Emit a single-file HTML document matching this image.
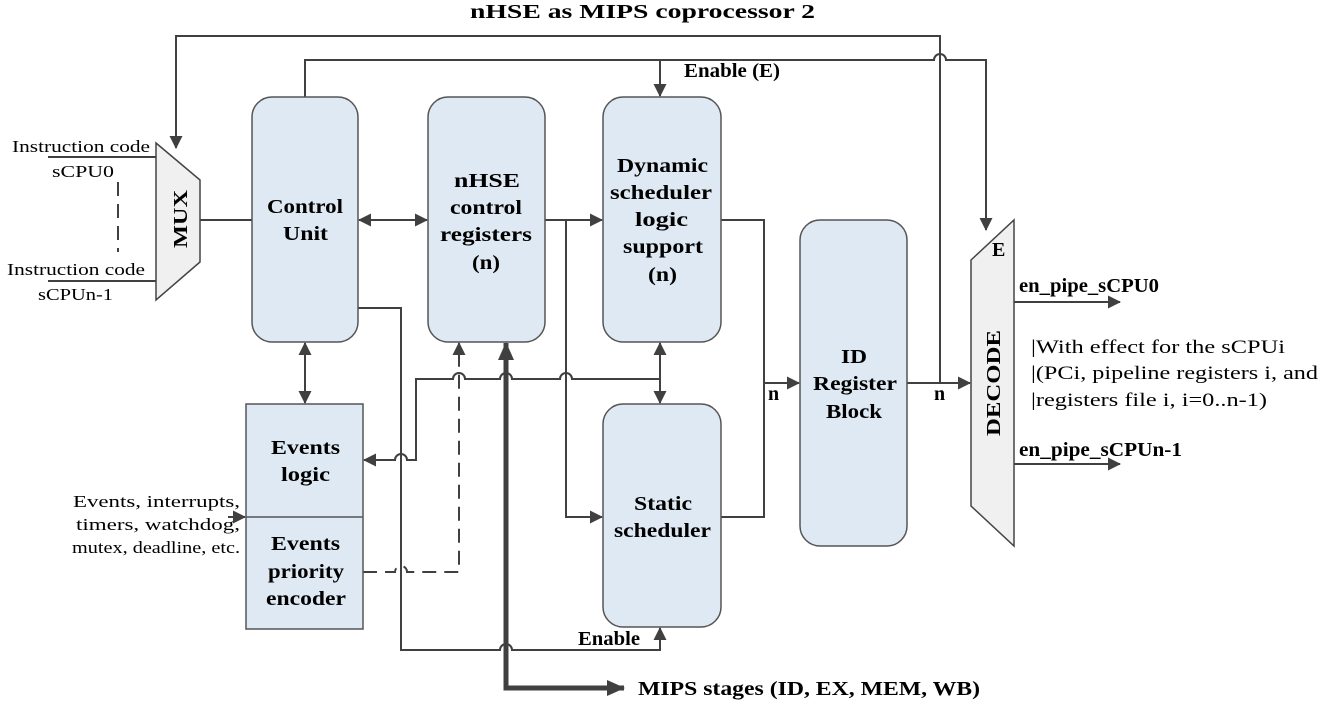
<!DOCTYPE html>
<html><head><meta charset="utf-8"><style>
body{margin:0;background:#fff}
svg{display:block}
text{font-family:"Liberation Serif",serif;fill:#000}
.b{font-weight:bold;font-size:20px}
.s{font-size:17px}
</style></head><body>
<svg width="1323" height="706" viewBox="0 0 1323 706" xmlns="http://www.w3.org/2000/svg">
<defs>
<marker id="a" markerWidth="13" markerHeight="13" refX="12" refY="6.5" orient="auto-start-reverse" markerUnits="userSpaceOnUse" viewBox="0 0 13 13"><path d="M0,0 L13,6.5 L0,13z" fill="#404040"/></marker>
<marker id="A" markerWidth="18" markerHeight="16" refX="17" refY="8" orient="auto-start-reverse" markerUnits="userSpaceOnUse" viewBox="0 0 18 16"><path d="M0,0 L18,8 L0,16z" fill="#404040"/></marker>
</defs>
<g fill="none" stroke="#404040" stroke-width="2">
<path d="M940,383 V36 H176 V148" marker-end="url(#a)"/>
<path d="M305,97 V60 H934 A6,6 0 0 1 946,60 H986 V230" marker-end="url(#a)"/>
<path d="M660,60 V96" marker-end="url(#a)"/>
<path d="M48,157 H156 M48,281 H156 M200,220 H252"/>
<path d="M118,182 V252" stroke-dasharray="14,8"/>
<path d="M359,220 H427" marker-start="url(#a)" marker-end="url(#a)"/>
<path d="M545,220 H602" marker-end="url(#a)"/>
<path d="M566,220 V517 H602" marker-end="url(#a)"/>
<path d="M721,220 H764 V517 H721"/>
<path d="M764,383 H799" marker-end="url(#a)"/>
<path d="M907,383 H970" marker-end="url(#a)"/>
<path d="M660,343 V403" marker-start="url(#a)" marker-end="url(#a)"/>
<path d="M305,343 V403" marker-start="url(#a)" marker-end="url(#a)"/>
<path d="M660,379 H572 A6,6 0 0 0 560,379 H512 A6,6 0 0 0 500,379 H465 A6,6 0 0 0 453,379 H416 V460 H407 A6,6 0 0 0 395,460 H364" marker-end="url(#a)"/>
<path d="M358,308 H401 V650 H500 A6,6 0 0 1 512,650 H660 V628" marker-end="url(#a)"/>
<path d="M363,572 H395 A6,6 0 0 1 407,572 H459 V343" stroke-dasharray="14,8" marker-end="url(#a)"/>
<path d="M228,517 H245" marker-end="url(#a)"/>
<path d="M1014,302 H1120" marker-end="url(#a)"/>
<path d="M1014,464 H1120" marker-end="url(#a)"/>
<path d="M506,343 V688 H624" stroke-width="5" marker-start="url(#A)" marker-end="url(#A)"/>
</g>
<g stroke="#555" stroke-width="1.5" fill="#dfe9f3">
<rect x="252" y="97" width="106" height="245" rx="20"/>
<rect x="428" y="97" width="117" height="245" rx="20"/>
<rect x="603" y="97" width="118" height="245" rx="20"/>
<rect x="603" y="404" width="118" height="223" rx="20"/>
<rect x="800" y="220" width="107" height="326" rx="20"/>
<rect x="246" y="404" width="117" height="225"/>
<line x1="246" y1="517" x2="363" y2="517"/>
<path d="M156,143 L200,180 L200,262 L156,300z" fill="#f0f0f0" stroke="#444"/>
<path d="M971,260 L1014,220 L1014,546 L971,506z" fill="#f0f0f0" stroke="#444"/>
</g>
<g lengthAdjust="spacingAndGlyphs">
<text class="b" x="470" y="18" textLength="345" lengthAdjust="spacingAndGlyphs">nHSE as MIPS coprocessor 2</text>
<text class="b" x="684" y="77" font-size="17" textLength="96" lengthAdjust="spacingAndGlyphs">Enable (E)</text>
<text class="s" x="12" y="152" textLength="138" lengthAdjust="spacingAndGlyphs">Instruction code</text>
<text class="s" x="52" y="177" textLength="62" lengthAdjust="spacingAndGlyphs">sCPU0</text>
<text class="s" x="7" y="275" textLength="138" lengthAdjust="spacingAndGlyphs">Instruction code</text>
<text class="s" x="38" y="300" textLength="75" lengthAdjust="spacingAndGlyphs">sCPUn-1</text>
<text class="b" transform="translate(187,219) rotate(-90)" x="-29" y="0" textLength="58" lengthAdjust="spacingAndGlyphs">MUX</text>
<text class="b" transform="translate(1000,383) rotate(-90)" x="-53" y="0" textLength="106" lengthAdjust="spacingAndGlyphs">DECODE</text>

<text class="b" x="267" y="213" textLength="76" lengthAdjust="spacingAndGlyphs">Control</text>
<text class="b" x="283" y="240" textLength="45" lengthAdjust="spacingAndGlyphs">Unit</text>
<text class="b" x="454" y="187" textLength="66" lengthAdjust="spacingAndGlyphs">nHSE</text>
<text class="b" x="450" y="214" textLength="72" lengthAdjust="spacingAndGlyphs">control</text>
<text class="b" x="440" y="241" textLength="92" lengthAdjust="spacingAndGlyphs">registers</text>
<text class="b" x="472" y="269" textLength="28" lengthAdjust="spacingAndGlyphs">(n)</text>
<text class="b" x="617" y="172" textLength="91" lengthAdjust="spacingAndGlyphs">Dynamic</text>
<text class="b" x="610" y="199" textLength="102" lengthAdjust="spacingAndGlyphs">scheduler</text>
<text class="b" x="635" y="226" textLength="53" lengthAdjust="spacingAndGlyphs">logic</text>
<text class="b" x="623" y="253" textLength="80" lengthAdjust="spacingAndGlyphs">support</text>
<text class="b" x="648" y="281" textLength="29" lengthAdjust="spacingAndGlyphs">(n)</text>
<text class="b" x="634" y="510" textLength="58" lengthAdjust="spacingAndGlyphs">Static</text>
<text class="b" x="614" y="537" textLength="97" lengthAdjust="spacingAndGlyphs">scheduler</text>
<text class="b" x="841" y="363" textLength="26" lengthAdjust="spacingAndGlyphs">ID</text>
<text class="b" x="813" y="390" textLength="84" lengthAdjust="spacingAndGlyphs">Register</text>
<text class="b" x="826" y="418" textLength="56" lengthAdjust="spacingAndGlyphs">Block</text>
<text class="b" x="271" y="454" textLength="69" lengthAdjust="spacingAndGlyphs">Events</text>
<text class="b" x="281" y="481" textLength="49" lengthAdjust="spacingAndGlyphs">logic</text>
<text class="b" x="271" y="550" textLength="69" lengthAdjust="spacingAndGlyphs">Events</text>
<text class="b" x="268" y="578" textLength="76" lengthAdjust="spacingAndGlyphs">priority</text>
<text class="b" x="266" y="605" textLength="80" lengthAdjust="spacingAndGlyphs">encoder</text>

<text class="s" x="73" y="507" textLength="167" lengthAdjust="spacingAndGlyphs">Events, interrupts,</text>
<text class="s" x="76" y="530" textLength="164" lengthAdjust="spacingAndGlyphs">timers, watchdog,</text>
<text class="s" x="72" y="553" textLength="168" lengthAdjust="spacingAndGlyphs">mutex, deadline, etc.</text>

<text class="b" x="768" y="400" font-size="16">n</text>
<text class="b" x="934" y="400" font-size="16">n</text>
<text class="b" x="992" y="256" font-size="16">E</text>
<text class="b" x="578" y="645" font-size="17" textLength="62" lengthAdjust="spacingAndGlyphs">Enable</text>
<text class="b" x="638" y="695" textLength="342" lengthAdjust="spacingAndGlyphs">MIPS stages (ID, EX, MEM, WB)</text>
<text class="b" x="1019" y="292" font-size="17" textLength="140" lengthAdjust="spacingAndGlyphs">en_pipe_sCPU0</text>
<text class="b" x="1019" y="456" font-size="17" textLength="163" lengthAdjust="spacingAndGlyphs">en_pipe_sCPUn-1</text>
<text x="1031" y="353" font-size="19" textLength="254" lengthAdjust="spacingAndGlyphs">|With effect for the sCPUi</text>
<text x="1031" y="379" font-size="19" textLength="287" lengthAdjust="spacingAndGlyphs">|(PCi, pipeline registers i, and</text>
<text x="1031" y="406" font-size="19" textLength="236" lengthAdjust="spacingAndGlyphs">|registers file i, i=0..n-1)</text>
</g>
</svg>
</body></html>
